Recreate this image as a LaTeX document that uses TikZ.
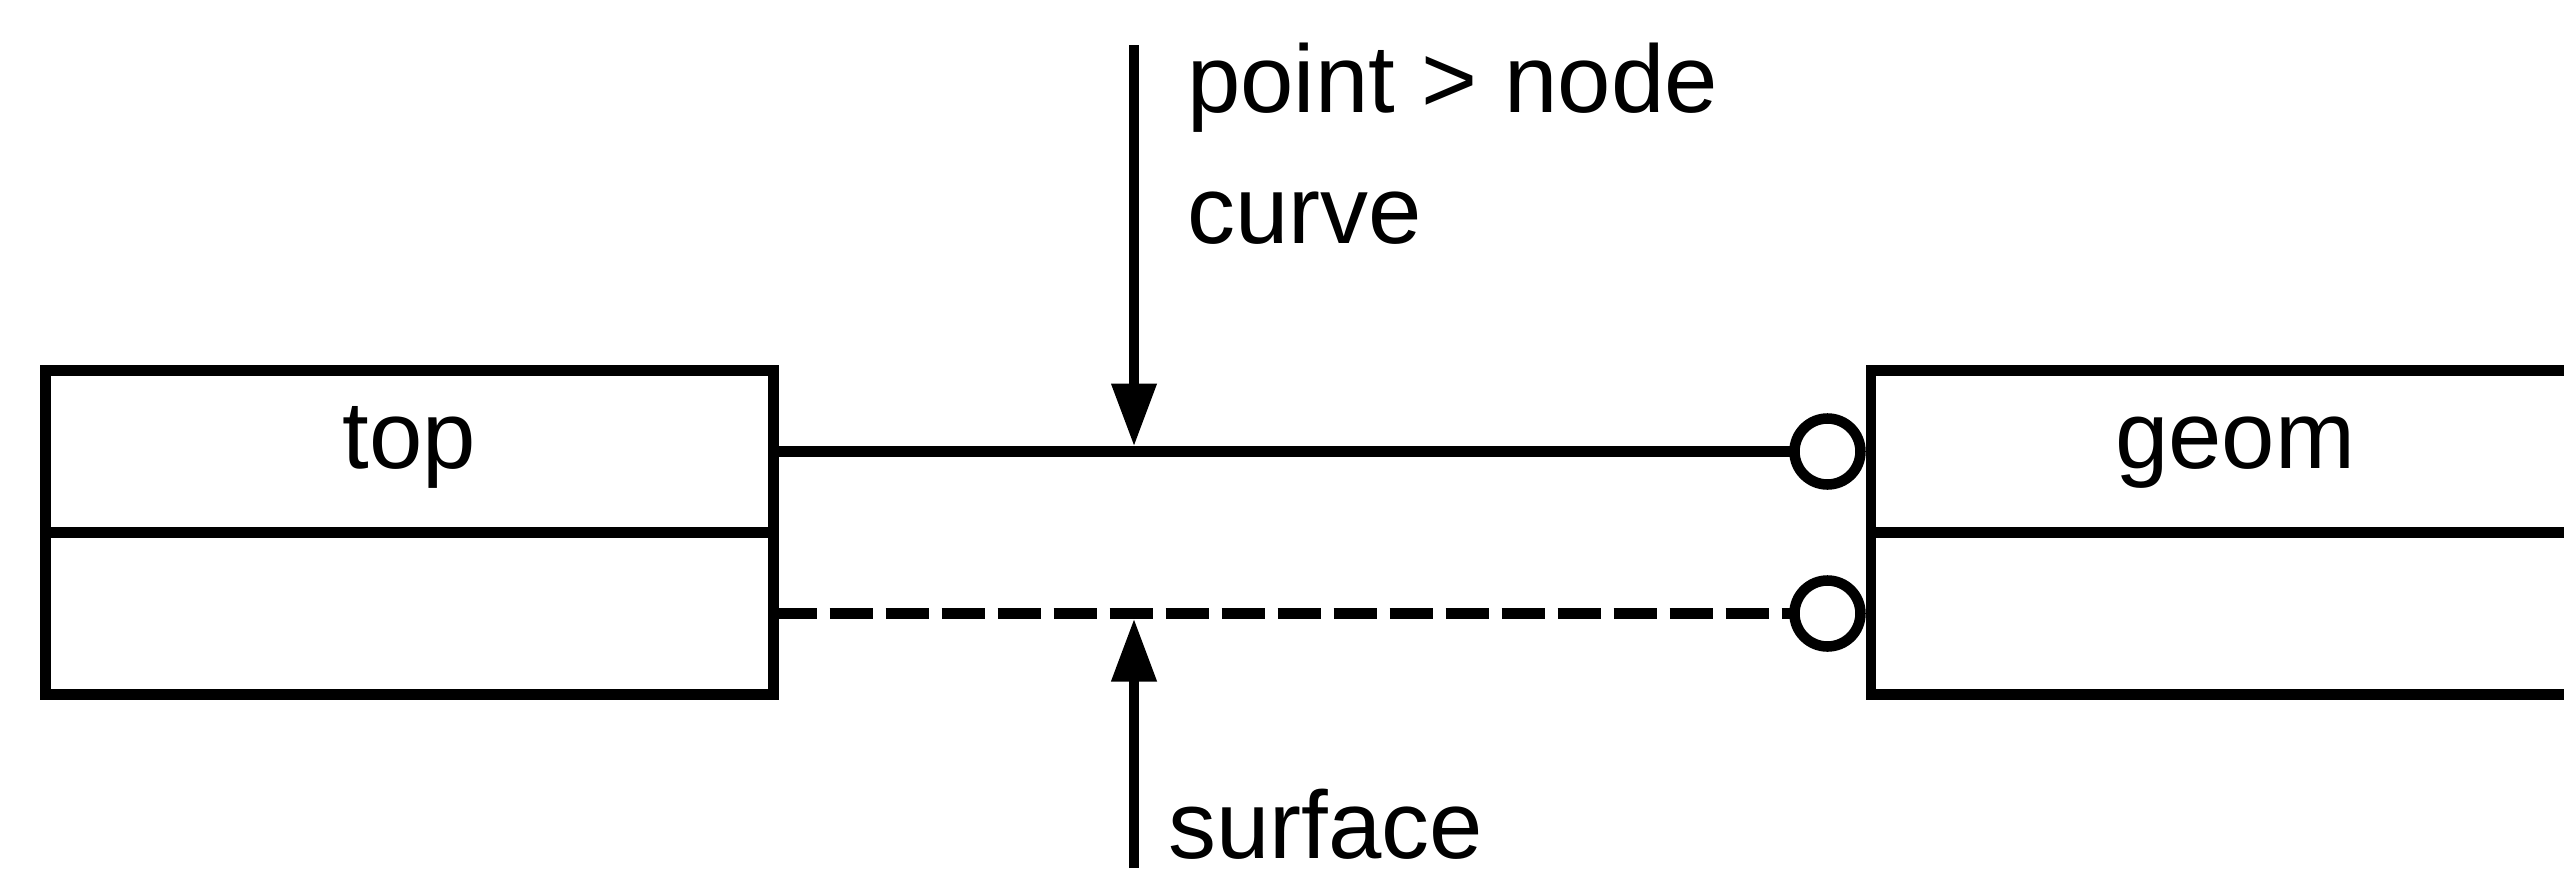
\documentclass[tikz,border=0pt]{standalone}
\usepackage{fontspec}
\setmainfont{Liberation Sans}
\usetikzlibrary{positioning, arrows.meta}

\begin{document}
\begin{tikzpicture}[
  line width=3pt,
  compbox/.style={
    draw,
    outer sep=0pt,
    minimum width=7.28cm,
    minimum height=1.62cm,
    text height=0.58cm,
    text depth=0.25cm,
    font=\fontsize{27.3}{32}\selectfont
  },
  socket/.style={
    circle,
    draw,
    fill=white,
    outer sep=0pt,
    inner sep=0pt,
    minimum size=0.66cm
  },
  pointer/.style={
    -{Triangle[length=0.63cm, width=0.43cm]},
    shorten >=0.05cm
  },
  lbl/.style={
    anchor=base west,
    inner sep=0pt,
    font=\fontsize{27.3}{32}\selectfont
  }
]

\useasboundingbox (0,0) rectangle (25.64,8.68);

% the two classes
\node[compbox] (top) at (4.095,4.165) {top};
\node[compbox, below=0pt of top] (topbody) {};

\node[compbox] (geom) at (22.35,4.165) {geom};
\node[compbox, below=0pt of geom] (geombody) {};

\node[socket, left=3pt of geom] (sock1) {};
\node[socket, left=3pt of geombody] (sock2) {};

\draw (top.east) -- (sock1.west);
\draw[dash pattern=on 0.43cm off 0.13cm] (topbody.east) -- (sock2.west);

% pointers onto the links
\coordinate (drop) at (11.34,8.23);
\coordinate (rise) at (11.34,0);
\draw[pointer] (drop) -- (drop |- top.east);
\draw[pointer] (rise) -- (rise |- topbody.east);

\node[lbl] (lblpoint) at (11.82,7.56) {point > node};
\node[lbl] (lblcurve) at (11.82,6.25) {curve};
\node[lbl] (lblsurface) at (11.63,0.1) {surface};

\end{tikzpicture}
\end{document}
